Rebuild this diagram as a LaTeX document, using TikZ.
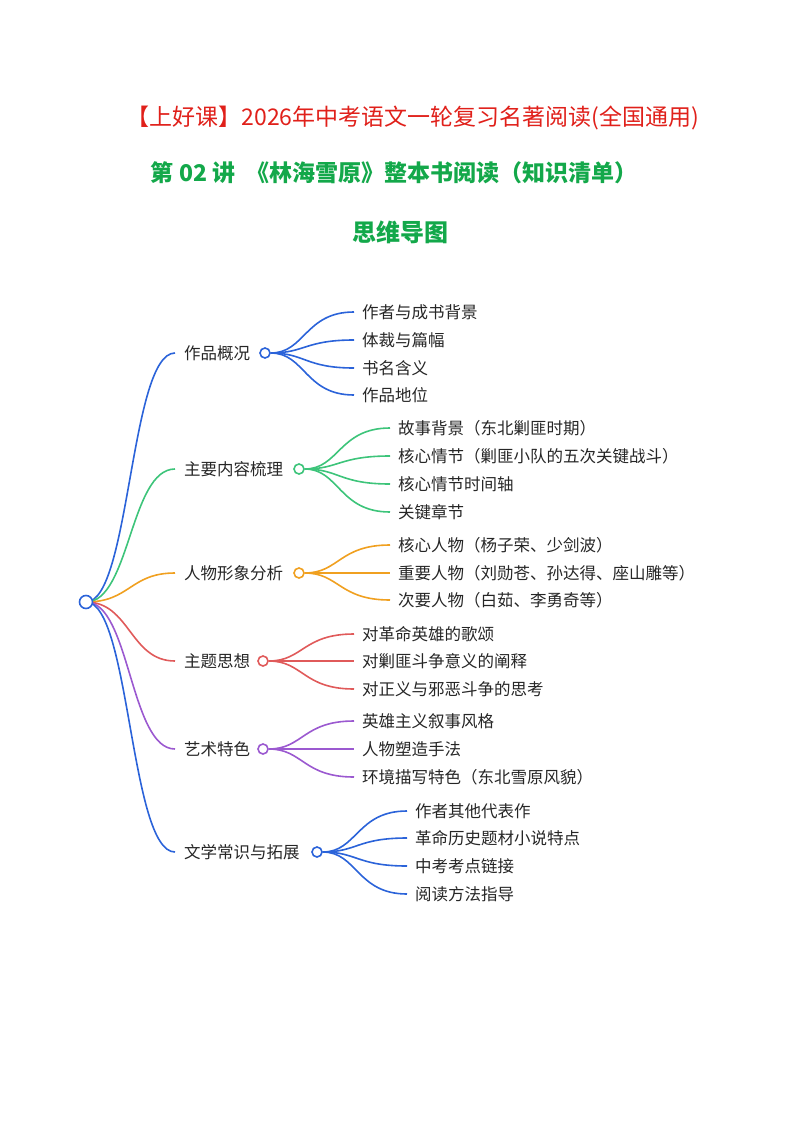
\documentclass[tikz,border=0pt]{standalone}
\usepackage{fontspec}
\setmainfont{Noto Sans CJK SC}
\definecolor{cb}{HTML}{2B63D9}
\definecolor{cg}{HTML}{3DC47A}
\definecolor{co}{HTML}{F0A020}
\definecolor{cr}{HTML}{E05A5A}
\definecolor{cp}{HTML}{9B59D0}
\definecolor{tred}{HTML}{E0201A}
\definecolor{tgreen}{HTML}{13A84A}
\begin{document}
\begin{tikzpicture}[x=1pt,y=-1pt,
  lbl/.style={anchor=west,inner sep=0pt,font=\fontsize{16.5}{16.5}\selectfont,text=black!85},
  ring/.style={circle,draw,line width=1.6pt,fill=white,inner sep=0pt,minimum size=10pt},
  wire/.style={line width=1.6pt}]
\useasboundingbox (0,0) rectangle (800,1132);
\node (t1) at (413,118) {\fontsize{23}{23}\selectfont\color{tred}【上好课】2026年中考语文一轮复习名著阅读(全国通用)};
\node (t2) at (394,173) {\fontsize{23}{23}\selectfont\bfseries\color{tgreen}第 02 讲\ \ 《林海雪原》整本书阅读（知识清单）};
\node (t3) at (400,232) {\fontsize{24}{24}\selectfont\bfseries\color{tgreen}思维导图};
\coordinate (root) at (86,602);
\foreach \by/\cx/\col/\txt/\chx/\kids in {
 353/265/cb/作品概况/362/{312/作者与成书背景,340/体裁与篇幅,368/书名含义,395/作品地位},
 469/299/cg/主要内容梳理/398/{428/故事背景（东北剿匪时期）,456/核心情节（剿匪小队的五次关键战斗）,484/核心情节时间轴,512/关键章节},
 573/299/co/人物形象分析/398/{545/核心人物（杨子荣、少剑波）,573/重要人物（刘勋苍、孙达得、座山雕等）,600/次要人物（白茹、李勇奇等）},
 661/263/cr/主题思想/362/{634/对革命英雄的歌颂,661/对剿匪斗争意义的阐释,689/对正义与邪恶斗争的思考},
 749/263/cp/艺术特色/362/{721/英雄主义叙事风格,749/人物塑造手法,777/环境描写特色（东北雪原风貌）},
 852/317/cb/文学常识与拓展/415/{811/作者其他代表作,838/革命历史题材小说特点,866/中考考点链接,894/阅读方法指导}}{
  \coordinate (bend) at (175,\by);
  \draw[wire,\col] (root) .. controls (130,602) and (130,\by) .. (bend);
  \node[lbl] (bl) at (184,\by) {\txt};
  \node[ring,draw=\col] (bc) at (\cx,\by) {};
  \foreach \ky/\kt in \kids {
    \node[lbl] (kl) at (\chx,\ky) {\kt};
    \coordinate (ke) at (\chx-8,\ky);
    \draw[wire,\col] (bc.east) .. controls (\cx+40,\by) and (\cx+40,\ky) .. (ke);
  }
}
\node[ring,draw=cb,minimum size=13pt] (rc) at (root) {};
\end{tikzpicture}
\end{document}
